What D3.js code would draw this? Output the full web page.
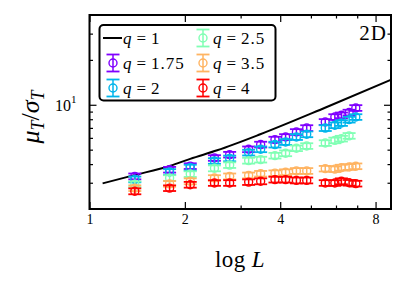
<!DOCTYPE html>
<html>
<head>
<meta charset="utf-8">
<script src="https://cdn.jsdelivr.net/npm/d3@7"></script>
<style>
body { margin: 0; background: #fff; }
text { font-family: "Liberation Serif", "DejaVu Serif", serif; fill: #000; }
</style>
</head>
<body>
<svg></svg>
<script>
var width = 407;
var height = 283;
var plot = {left: 89.5, right: 391, top: 15, bottom: 209};

// x positions (log L) of the simulated sizes
var logL = [1.39, 1.79, 2.08, 2.48, 2.77, 3.18, 3.47, 3.85, 4.16, 4.5, 4.85, 5.55, 5.95, 6.24, 6.6, 6.93];

// q = 1 exact curve
var q1L = [1.1, 1.376, 1.8, 2.08, 2.53, 3.46, 5.54, 8.95];
var q1Vals = [2.97, 3.36, 3.9, 4.34, 4.95, 6.34, 9.55, 14.7];

// simulated q values
var q175 = [3.31, 3.67, 3.88, 4.40, 4.63, 5.03, 5.41, 5.84, 6.08, 6.57, 6.98, 7.67, 8.28, 8.50, 8.87, 9.52];
var q175Err = [0.15, 0.16, 0.17, 0.19, 0.2, 0.22, 0.24, 0.26, 0.27, 0.29, 0.31, 0.34, 0.36, 0.37, 0.39, 0.42];
var q2 = [3.16, 3.54, 3.79, 4.20, 4.37, 4.78, 5.03, 5.41, 5.63, 6.08, 6.34, 6.98, 7.29, 7.55, 7.95, 8.28];
var q2Err = [0.14, 0.16, 0.17, 0.18, 0.19, 0.21, 0.22, 0.24, 0.25, 0.27, 0.28, 0.31, 0.32, 0.33, 0.35, 0.36];
var q25 = [2.93, 3.23, 3.43, 3.75, 3.94, 4.22, 4.29, 4.56, 4.73, 5.11, 5.29, 5.54, 5.77, 5.93, 6.19, null];
var q25Err = [0.13, 0.14, 0.15, 0.17, 0.17, 0.19, 0.19, 0.2, 0.21, 0.22, 0.23, 0.24, 0.25, 0.26, 0.27, null];
var q35 = [2.76, 2.95, 3.07, 3.23, 3.31, 3.36, 3.45, 3.48, 3.53, 3.60, 3.60, 3.73, 3.70, 3.79, 3.83, 3.87];
var q35Err = [0.12, 0.13, 0.14, 0.14, 0.15, 0.15, 0.15, 0.15, 0.16, 0.16, 0.16, 0.16, 0.16, 0.17, 0.17, 0.17];
var q4 = [2.63, 2.76, 2.91, 2.99, 2.99, 3.03, 3.07, 3.15, 3.15, 3.11, 3.11, 2.99, 2.99, 3.07, 3.00, 2.96];
var q4Err = [0.12, 0.12, 0.13, 0.13, 0.13, 0.13, 0.14, 0.14, 0.14, 0.14, 0.14, 0.13, 0.13, 0.14, 0.13, 0.13];

var seriesNames = ["1.75", "2", "2.5", "3.5", "4"];
var seriesColors = ["#8000ff", "#00b5eb", "#80ffb4", "#ffb462", "#ff0000"];
var seriesVals = [q175, q2, q25, q35, q4];
var seriesErr = [q175Err, q2Err, q25Err, q35Err, q4Err];

var xTicks = [1, 2, 4, 8];
var xMinor = [3, 5, 6, 7];
var yMinor = [3, 4, 5, 6, 7, 8, 9, 20, 30];

var svg = d3.select("svg")
            .attr("width", width)
            .attr("height", height);

// log scales: base 2 on x, base 10 on y
var xScale = d3.scaleLog()
            .base(2)
            .domain([1, 8.95])
            .range([plot.left, plot.right]);

var yScale = d3.scaleLog()
            .domain([2, 40])
            .range([plot.bottom, plot.top]);

// ticks point inwards on all four sides
function tickAxis(axisFn, scale, values, size, pos, labels) {
    var a = axisFn(scale)
            .tickValues(values)
            .tickSize(-size)
            .tickPadding(5)
            .tickFormat(labels ? d3.format("d") : "");
    var g = svg.append("g")
            .attr("transform", pos)
            .call(a);
    g.select(".domain").remove();
    g.selectAll("line").attr("stroke", "#000").attr("stroke-width", 1.2);
    g.selectAll("text")
            .style("font-family", "'Liberation Serif', serif")
            .style("font-size", "14px");
    return g;
}

tickAxis(d3.axisBottom, xScale, xTicks, 7, `translate(0,${plot.bottom})`, true);
tickAxis(d3.axisBottom, xScale, xMinor, 3.5, `translate(0,${plot.bottom})`, false);
tickAxis(d3.axisTop, xScale, xTicks, 7, `translate(0,${plot.top})`, false);
tickAxis(d3.axisTop, xScale, xMinor, 3.5, `translate(0,${plot.top})`, false);
tickAxis(d3.axisLeft, yScale, [10], 7, `translate(${plot.left},0)`, false);
tickAxis(d3.axisLeft, yScale, yMinor, 3.5, `translate(${plot.left},0)`, false);
tickAxis(d3.axisRight, yScale, [10], 7, `translate(${plot.right},0)`, false);
tickAxis(d3.axisRight, yScale, yMinor, 3.5, `translate(${plot.right},0)`, false);

// 10^1 label
var tenLabel = svg.append("text")
            .attr("x", 55)
            .attr("y", yScale(10) + 6.5)
            .style("font-size", "16px");
tenLabel.append("tspan").text("10");
tenLabel.append("tspan")
            .attr("dy", -8)
            .style("font-size", "11px")
            .text("1");

// q = 1 curve
var line = d3.line()
            .x(d => xScale(d[0]))
            .y(d => yScale(d[1]))
            .curve(d3.curveMonotoneX);

svg.append("path")
            .datum(q1L.map((l, i) => [l, q1Vals[i]]))
            .attr("d", line)
            .attr("fill", "none")
            .attr("stroke", "#000")
            .attr("stroke-width", 2);

// error bar markers
function drawMarker(g, cx, cy, ylo, yhi, color) {
    g.append("line")
            .attr("x1", cx).attr("x2", cx)
            .attr("y1", ylo).attr("y2", yhi)
            .attr("stroke", color).attr("stroke-width", 1.5);
    [ylo, yhi].forEach(function (yy) {
        g.append("line")
            .attr("x1", cx - 6.5).attr("x2", cx + 6.5)
            .attr("y1", yy).attr("y2", yy)
            .attr("stroke", color).attr("stroke-width", 1.8);
    });
    g.append("circle")
            .attr("cx", cx).attr("cy", cy)
            .attr("r", 4)
            .attr("fill", "none")
            .attr("stroke", color)
            .attr("stroke-width", 1.4);
}

seriesVals.forEach(function (vals, s) {
    var g = svg.append("g");
    vals.forEach(function (v, i) {
        if (v == null) return;
        var e = seriesErr[s][i];
        drawMarker(g, xScale(logL[i]), yScale(v), yScale(v + e), yScale(v - e), seriesColors[s]);
    });
});

// frame
svg.append("rect")
            .attr("x", plot.left)
            .attr("y", plot.top)
            .attr("width", plot.right - plot.left)
            .attr("height", plot.bottom - plot.top)
            .attr("fill", "none")
            .attr("stroke", "#000")
            .attr("stroke-width", 2);

// legend
var legend = svg.append("g");
legend.append("rect")
            .attr("x", 99.5)
            .attr("y", 25)
            .attr("width", 176)
            .attr("height", 75.5)
            .attr("rx", 4)
            .attr("fill", "#fff")
            .attr("stroke", "#000")
            .attr("stroke-width", 2);

var legendItems = [{name: "1", color: "#000", col: 0, row: 0, isLine: true}];
seriesNames.forEach(function (n, s) {
    var slot = [[0, 1], [0, 2], [1, 0], [1, 1], [1, 2]][s];
    legendItems.push({name: n, color: seriesColors[s], col: slot[0], row: slot[1]});
});

legendItems.forEach(function (d) {
    var cx = 113 + d.col * 90;
    var cy = 38 + d.row * 25;
    if (d.isLine) {
        legend.append("line")
            .attr("x1", 103).attr("x2", 122)
            .attr("y1", cy).attr("y2", cy)
            .attr("stroke", "#000").attr("stroke-width", 2);
    } else {
        drawMarker(legend, cx, cy, cy - 8.5, cy + 8.5, d.color);
    }
    var t = legend.append("text")
            .attr("x", cx + 10)
            .attr("y", cy + 6)
            .style("font-size", "17px");
    t.append("tspan").style("font-style", "italic").text("q");
    t.append("tspan").attr("dx", 5).text("=");
    t.append("tspan").attr("dx", 5).style("letter-spacing", "1px").text(d.name);
});

// 2D tag
svg.append("text")
            .attr("x", 387)
            .attr("y", 40)
            .style("text-anchor", "end")
            .style("font-size", "21px")
            .style("letter-spacing", "1px")
            .text("2D");

// x axis title
var xTitle = svg.append("text")
            .attr("x", 240)
            .attr("y", 267)
            .style("text-anchor", "middle")
            .style("font-size", "23px")
            .style("letter-spacing", "0.5px");
xTitle.append("tspan").text("log");
xTitle.append("tspan").attr("dx", 6).style("font-style", "italic").text("L");

// y axis title, rotated via a wrapping group
var yTitle = svg.append("g")
            .attr("transform", "translate(39,117) rotate(-90)")
        .append("text")
            .attr("x", 0)
            .attr("y", 0)
            .attr("text-anchor", "middle")
            .style("font-size", "26px");
yTitle.append("tspan").style("font-style", "italic").text("μ");
yTitle.append("tspan").attr("dy", 5).style("font-style", "italic").style("font-size", "18px").text("T");
yTitle.append("tspan").attr("dy", -5).text("/");
yTitle.append("tspan").style("font-style", "italic").text("σ");
yTitle.append("tspan").attr("dy", 5).style("font-style", "italic").style("font-size", "18px").text("T");
</script>
</body>
</html>
